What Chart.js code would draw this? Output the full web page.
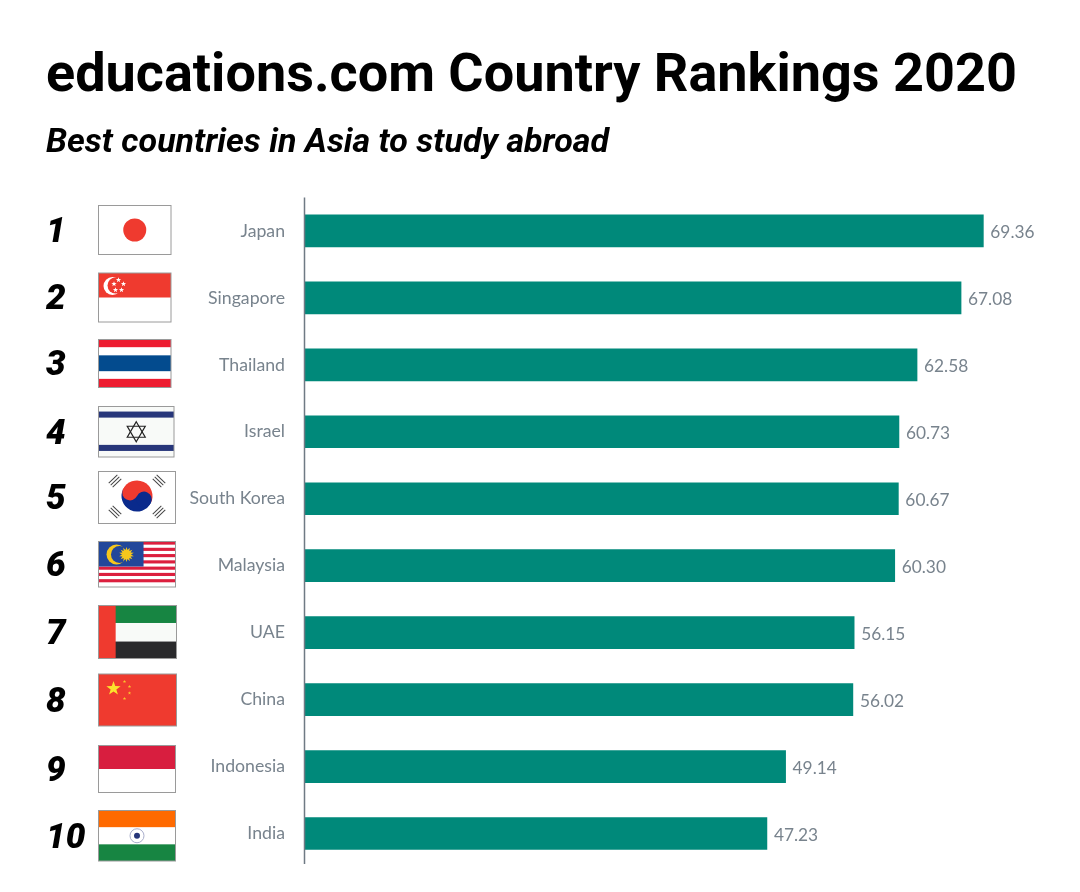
<!DOCTYPE html>
<html>
<head>
<meta charset="utf-8">
<title>educations.com Country Rankings 2020</title>
<script src="https://cdn.jsdelivr.net/npm/chart.js@4"></script>
<style>
  html, body { margin: 0; padding: 0; background: #fff; }
  canvas { display: block; }
</style>
</head>
<body>
<canvas id="chart" width="1080" height="892"></canvas>
<script>
const countries = ["Japan", "Singapore", "Thailand", "Israel", "South Korea", "Malaysia", "UAE", "China", "Indonesia", "India"]
const scores = [69.36, 67.08, 62.58, 60.73, 60.67, 60.30, 56.15, 56.02, 49.14, 47.23]
const ranks = ["1", "2", "3", "4", "5", "6", "7", "8", "9", "10"]

const RED = "#ef3a2f"
const GRAY = "#78838d"

function star(c, x, y, r, color, rot, points, inner) {
  const n = points || 5
  c.fillStyle = color
  c.beginPath()
  for (let i = 0; i < n * 2; i++) {
    const a = (rot || 0) - Math.PI / 2 + i * Math.PI / n
    const rr = i % 2 ? r * (inner || 0.4) : r
    c.lineTo(x + Math.cos(a) * rr, y + Math.sin(a) * rr)
  }
  c.closePath()
  c.fill()
}

function bands(c, b, list) {
  // list of [fraction start, fraction end, colour]
  list.forEach(s => {
    c.fillStyle = s[2]
    c.fillRect(b[0], b[1] + s[0] * b[3], b[2], (s[1] - s[0]) * b[3])
  })
}

function trigram(c, x, y, ang) {
  c.save()
  c.translate(x, y)
  c.rotate(ang)
  c.strokeStyle = "#444"
  c.lineWidth = 1
  for (let i = -1; i <= 1; i++) {
    c.beginPath()
    c.moveTo(i * 2.8, -6)
    c.lineTo(i * 2.8, 6)
    c.stroke()
  }
  c.restore()
}

const flagDrawers = {
  Japan(c, b) {
    c.fillStyle = RED
    c.beginPath()
    c.arc(b[0] + b[2] / 2, b[1] + b[3] / 2, 11.5, 0, Math.PI * 2)
    c.fill()
  },
  Singapore(c, b) {
    bands(c, b, [[0, 0.5, RED]])
    c.fillStyle = "#fff"
    c.beginPath()
    c.arc(b[0] + 14, b[1] + 13, 9, 0, Math.PI * 2)
    c.fill()
    c.fillStyle = RED
    c.beginPath()
    c.arc(b[0] + 17, b[1] + 12.5, 8, 0, Math.PI * 2)
    c.fill()
    ;[[20, 7], [25, 11], [23, 17], [17, 17], [15.5, 11]].forEach(p => star(c, b[0] + p[0], b[1] + p[1], 2.8, "#fff"))
  },
  Thailand(c, b) {
    bands(c, b, [[0, 0.16, "#ed1c30"], [0.33, 0.66, "#034b8e"], [0.82, 1, "#ed1c30"]])
  },
  Israel(c, b) {
    c.fillStyle = "#f8faf8"
    c.fillRect(b[0], b[1], b[2], b[3])
    bands(c, b, [[0.1, 0.22, "#27367a"], [0.76, 0.88, "#27367a"]])
    const x = b[0] + b[2] / 2, y = b[1] + b[3] / 2
    c.strokeStyle = "#222"
    c.lineWidth = 1.2
    ;[-1, 1].forEach(d => {
      c.beginPath()
      c.moveTo(x, y - d * 10)
      c.lineTo(x + 9, y + d * 5.5)
      c.lineTo(x - 9, y + d * 5.5)
      c.closePath()
      c.stroke()
    })
  },
  "South Korea"(c, b) {
    const x = b[0] + b[2] / 2, y = b[1] + b[3] / 2 - 1.5, r = 15.5
    c.save()
    c.translate(x, y)
    c.rotate(0.45)
    c.fillStyle = "#ef3a2f"
    c.beginPath(); c.arc(0, 0, r, Math.PI, 0); c.fill()
    c.fillStyle = "#0a2a8c"
    c.beginPath(); c.arc(0, 0, r, 0, Math.PI); c.fill()
    c.beginPath(); c.arc(r / 2, 0, r / 2, 0, Math.PI * 2); c.fill()
    c.fillStyle = "#ef3a2f"
    c.beginPath(); c.arc(-r / 2, 0, r / 2, 0, Math.PI * 2); c.fill()
    c.restore()
    trigram(c, x - 22, y - 15, 0.8)
    trigram(c, x + 22, y - 15, -0.8)
    trigram(c, x - 22, y + 16, -0.8)
    trigram(c, x + 22, y + 16, 0.8)
  },
  Malaysia(c, b) {
    for (let i = 0; i < 14; i += 2) {
      bands(c, b, [[i / 14.5, (i + 1) / 14.5, "#dc1f3e"]])
    }
    c.fillStyle = "#22479a"
    c.fillRect(b[0], b[1], b[2] * 0.585, b[3] * 0.55)
    c.fillStyle = "#f6c71c"
    c.beginPath(); c.arc(b[0] + 18, b[1] + 13, 10, 0, Math.PI * 2); c.fill()
    c.fillStyle = "#22479a"
    c.beginPath(); c.arc(b[0] + 21, b[1] + 13, 8.5, 0, Math.PI * 2); c.fill()
    star(c, b[0] + 28, b[1] + 13, 7.5, "#f6c71c", 0, 14, 0.6)
  },
  UAE(c, b) {
    bands(c, b, [[0, 0.33, "#178542"], [0.33, 0.68, "#f8faf8"], [0.68, 1, "#2a2a2c"]])
    c.fillStyle = RED
    c.fillRect(b[0], b[1], b[2] * 0.22, b[3])
  },
  China(c, b) {
    bands(c, b, [[0, 1, RED]])
    star(c, b[0] + 15, b[1] + 14.5, 7.5, "#fbe32c")
    ;[[26, 7.5], [31, 12.5], [31, 19], [26, 24.5]].forEach(p => star(c, b[0] + p[0], b[1] + p[1], 1.8, "#fbc52c"))
  },
  Indonesia(c, b) {
    bands(c, b, [[0, 0.5, "#d81e3f"]])
  },
  India(c, b) {
    bands(c, b, [[0, 0.33, "#ff6a00"], [0.67, 1, "#178542"]])
    const x = b[0] + b[2] / 2, y = b[1] + b[3] / 2
    c.strokeStyle = "#a9aecb"
    c.lineWidth = 1
    c.beginPath(); c.arc(x, y, 7, 0, Math.PI * 2); c.stroke()
    c.fillStyle = "#27367a"
    c.beginPath(); c.arc(x, y, 3, 0, Math.PI * 2); c.fill()
  }
}

// left, top, width, height of every flag, same order as countries
const flagBoxes = [
  [98.5, 205.5, 72.5, 49], [98.5, 273, 72.5, 49], [98.5, 339.5, 72.5, 48],
  [98.5, 406.5, 75.5, 50.5], [98.5, 471.5, 77, 52], [98.5, 541.5, 77, 45.5],
  [98.5, 605.5, 78, 53], [98.5, 674, 78, 52], [98.5, 745.5, 77, 47], [98.5, 810.5, 77, 50.5]
]

const sidePlugin = {
  id: "side",
  afterDraw(chart) {
    const c = chart.ctx
    const y = chart.scales.y
    const x = chart.scales.x

    // axis line runs a bit short of the plot bottom
    c.save()
    c.strokeStyle = "#6f7a84"
    c.lineWidth = 1.5
    c.beginPath()
    c.moveTo(x.left - 0.5, chart.chartArea.top)
    c.lineTo(x.left - 0.5, 864)
    c.stroke()

    countries.forEach((name, i) => {
      const py = y.getPixelForValue(i)
      const b = flagBoxes[i]

      // rank
      c.fillStyle = "#000"
      c.font = "italic 900 35px Roboto"
      c.textAlign = "left"
      c.textBaseline = "middle"
      c.fillText(ranks[i], 46, b[1] + b[3] / 2 + 3)

      // value
      c.fillStyle = GRAY
      c.font = "17.3px Lato"
      c.fillText(scores[i].toFixed(2), x.getPixelForValue(scores[i]) + 7, py + 1.5)

      // flag
      c.save()
      c.fillStyle = "#fff"
      c.fillRect(b[0], b[1], b[2], b[3])
      c.beginPath()
      c.rect(b[0], b[1], b[2], b[3])
      c.clip()
      flagDrawers[name](c, b)
      c.restore()
      c.strokeStyle = "#9a9a9a"
      c.lineWidth = 1
      c.strokeRect(b[0], b[1], b[2], b[3])
    })
    c.restore()
  }
}

new Chart(document.getElementById("chart"), {
  type: "bar",
  data: {
    labels: countries,
    datasets: [{
      data: scores,
      backgroundColor: "#00897a",
      barThickness: 32
    }]
  },
  plugins: [sidePlugin],
  options: {
    indexAxis: "y",
    responsive: false,
    animation: false,
    devicePixelRatio: 1,
    layout: { padding: { left: 46, right: 41, top: 0, bottom: 25 } },
    plugins: {
      legend: { display: false },
      tooltip: { enabled: false },
      title: {
        display: true,
        text: "educations.com Country Rankings 2020",
        align: "start",
        color: "#000",
        font: { family: "Roboto", size: 54, weight: "bold" },
        padding: { top: 44.6, bottom: 6 }
      },
      subtitle: {
        display: true,
        text: "Best countries in Asia to study abroad",
        align: "start",
        color: "#000",
        font: { family: "Roboto", size: 34, weight: "bold", style: "italic" },
        padding: { top: 8, bottom: 33.2 }
      }
    },
    scales: {
      x: { display: false, min: 0, max: 75.05 },
      y: {
        afterFit(scale) {
          scale.width = 259
          // the tick labels ask for extra room under the plot, drop it
          scale.paddingBottom = 0
          scale.paddingTop = 0
        },
        grid: { display: false, drawTicks: false },
        border: { display: false },
        ticks: {
          color: GRAY,
          padding: 20,
          autoSkip: false,
          font: { family: "Lato", size: 17.7 }
        }
      }
    }
  }
})
</script>
</body>
</html>
